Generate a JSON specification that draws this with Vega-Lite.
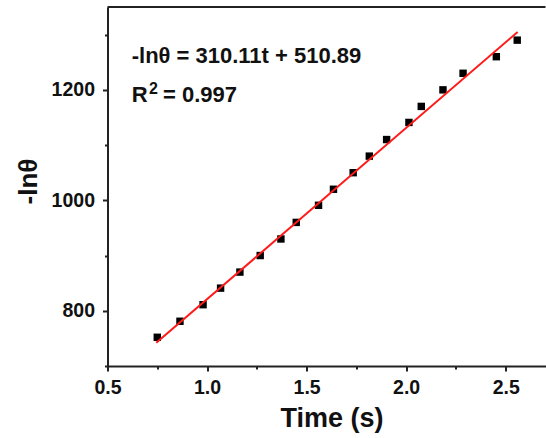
{
  "$schema": "https://vega.github.io/schema/vega-lite/v6.json",
  "width": 438,
  "height": 359,
  "autosize": "none",
  "padding": {"left": 107.5, "top": 7, "right": 0.5, "bottom": 72},
  "background": "white",
  "config": {"view": {"stroke": null}, "font": "Liberation Sans"},
  "layer": [
    {
      "data": {"values": [
        {"t": 0.75, "v": 752}, {"t": 0.864, "v": 781}, {"t": 0.98, "v": 811},
        {"t": 1.068, "v": 841}, {"t": 1.165, "v": 870}, {"t": 1.267, "v": 900},
        {"t": 1.371, "v": 930}, {"t": 1.448, "v": 960}, {"t": 1.56, "v": 991},
        {"t": 1.635, "v": 1020}, {"t": 1.734, "v": 1050}, {"t": 1.815, "v": 1080},
        {"t": 1.902, "v": 1110}, {"t": 2.014, "v": 1141}, {"t": 2.076, "v": 1170},
        {"t": 2.185, "v": 1200}, {"t": 2.286, "v": 1230}, {"t": 2.453, "v": 1260},
        {"t": 2.558, "v": 1290}
      ]},
      "mark": {"type": "point", "shape": "square", "filled": true, "size": 55, "color": "#000000", "opacity": 1},
      "encoding": {
        "x": {
          "field": "t", "type": "quantitative", "title": "Time (s)",
          "scale": {"domain": [0.5, 2.7], "nice": false, "zero": false},
          "axis": {
            "title": "Time (s)",
            "values": [0.5, 0.75, 1, 1.25, 1.5, 1.75, 2, 2.25, 2.5],
            "labelExpr": "abs(datum.value*2 - round(datum.value*2)) < 0.01 ? format(datum.value, '.1f') : ''",
            "tickSize": {"condition": {"test": "abs(datum.value*2 - round(datum.value*2)) < 0.01", "value": 5}, "value": 3},
            "tickWidth": 2, "tickColor": "#222222",
            "domainColor": "#222222", "domainWidth": 2,
            "grid": false,
            "labelFont": "Liberation Sans", "labelFontSize": 19.5, "labelFontWeight": "bold", "labelColor": "#111111",
            "labelPadding": 7, "labelFlush": false, "labelOverlap": false,
            "titleFont": "Liberation Sans", "titleFontSize": 27, "titleFontWeight": "bold", "titleColor": "#111111",
            "titleX": 224, "titleY": 60.7, "titleBaseline": "alphabetic", "titleAlign": "center"
          }
        },
        "y": {
          "field": "v", "type": "quantitative", "title": "-lnθ",
          "scale": {"domain": [700, 1350], "nice": false, "zero": false},
          "axis": {
            "title": "-lnθ",
            "values": [700, 800, 900, 1000, 1100, 1200, 1300],
            "labelExpr": "datum.value % 200 == 0 ? datum.value : ''",
            "tickSize": {"condition": {"test": "datum.value % 200 == 0", "value": 5}, "value": 3},
            "tickWidth": 2, "tickColor": "#222222",
            "domainColor": "#222222", "domainWidth": 2,
            "grid": false,
            "labelFont": "Liberation Sans", "labelFontSize": 19.5, "labelFontWeight": "bold", "labelColor": "#111111",
            "labelPadding": 8, "labelOverlap": false,
            "titleFont": "Liberation Sans", "titleFontSize": 26, "titleFontWeight": "bold", "titleColor": "#111111",
            "titleAngle": 270, "titleX": -71, "titleY": 174, "titleBaseline": "alphabetic", "titleAlign": "center"
          }
        }
      }
    },
    {
      "data": {"values": [{"t": 0.745, "v": 741.9}, {"t": 2.56, "v": 1304.8}]},
      "mark": {"type": "line", "color": "#ff1a1a", "strokeWidth": 2},
      "encoding": {
        "x": {"field": "t", "type": "quantitative", "title": "Time (s)"},
        "y": {"field": "v", "type": "quantitative", "title": "-lnθ"}
      }
    },
    {
      "data": {"values": [{}]},
      "mark": {"type": "rule", "color": "#222222", "strokeWidth": 2},
      "encoding": {"y": {"datum": 1350, "type": "quantitative"}}
    },
    {
      "data": {"values": [{}]},
      "mark": {"type": "text", "font": "Liberation Sans", "fontWeight": "bold", "fontSize": 22, "align": "left", "baseline": "alphabetic", "color": "#111111"},
      "encoding": {
        "x": {"datum": 0.6215, "type": "quantitative"},
        "y": {"datum": 1248, "type": "quantitative"},
        "text": {"value": "-lnθ = 310.11t + 510.89"}
      }
    },
    {
      "data": {"values": [{}]},
      "mark": {"type": "text", "font": "Liberation Sans", "fontWeight": "bold", "fontSize": 22, "align": "left", "baseline": "alphabetic", "color": "#111111"},
      "encoding": {
        "x": {"datum": 0.6215, "type": "quantitative"},
        "y": {"datum": 1178.5, "type": "quantitative"},
        "text": {"value": "R"}
      }
    },
    {
      "data": {"values": [{}]},
      "mark": {"type": "text", "font": "Liberation Sans", "fontWeight": "bold", "fontSize": 16, "align": "left", "baseline": "alphabetic", "color": "#111111"},
      "encoding": {
        "x": {"datum": 0.7085, "type": "quantitative"},
        "y": {"datum": 1193, "type": "quantitative"},
        "text": {"value": "2"}
      }
    },
    {
      "data": {"values": [{}]},
      "mark": {"type": "text", "font": "Liberation Sans", "fontWeight": "bold", "fontSize": 22, "align": "left", "baseline": "alphabetic", "color": "#111111"},
      "encoding": {
        "x": {"datum": 0.7787, "type": "quantitative"},
        "y": {"datum": 1178.5, "type": "quantitative"},
        "text": {"value": "= 0.997"}
      }
    }
  ]
}
